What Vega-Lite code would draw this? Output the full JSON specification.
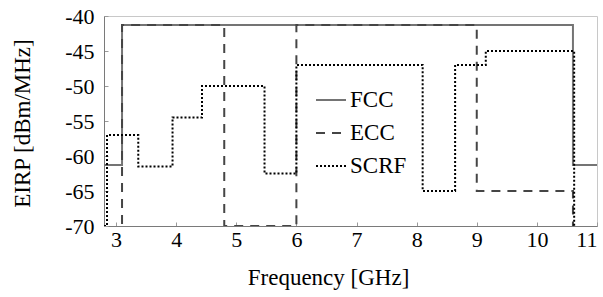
{
  "$schema": "https://vega.github.io/schema/vega-lite/v6.json",
  "width": 493,
  "height": 210,
  "autosize": {"type": "none"},
  "padding": {"left": 104, "top": 16, "right": 6, "bottom": 71},
  "background": "white",
  "config": {
    "view": {"stroke": "#c8c8c8", "strokeWidth": 1},
    "font": "Liberation Serif, Times New Roman, serif",
    "style": {
      "guide-label": {"font": "Liberation Serif, Times New Roman, serif"},
      "guide-title": {"font": "Liberation Serif, Times New Roman, serif"}
    }
  },
  "data": {
    "values": [
      {"f": 2.8, "p": -61.3, "s": "FCC"},
      {"f": 3.1, "p": -41.3, "s": "FCC"},
      {"f": 10.6, "p": -61.3, "s": "FCC"},
      {"f": 11.0, "p": -61.3, "s": "FCC"},
      {"f": 2.8, "p": -90, "s": "ECC"},
      {"f": 3.1, "p": -41.3, "s": "ECC"},
      {"f": 4.8, "p": -70, "s": "ECC"},
      {"f": 6.0, "p": -41.3, "s": "ECC"},
      {"f": 9.0, "p": -65, "s": "ECC"},
      {"f": 10.6, "p": -90, "s": "ECC"},
      {"f": 11.0, "p": -90, "s": "ECC"},
      {"f": 2.8, "p": -70, "s": "SCRF"},
      {"f": 2.85, "p": -57, "s": "SCRF"},
      {"f": 3.37, "p": -61.5, "s": "SCRF"},
      {"f": 3.94, "p": -54.5, "s": "SCRF"},
      {"f": 4.43, "p": -50, "s": "SCRF"},
      {"f": 5.47, "p": -62.5, "s": "SCRF"},
      {"f": 6.0, "p": -47, "s": "SCRF"},
      {"f": 8.1, "p": -65, "s": "SCRF"},
      {"f": 8.64, "p": -47, "s": "SCRF"},
      {"f": 9.15, "p": -45, "s": "SCRF"},
      {"f": 10.62, "p": -90, "s": "SCRF"},
      {"f": 11.0, "p": -90, "s": "SCRF"}
    ]
  },
  "mark": {"type": "line", "interpolate": "step-after", "strokeWidth": 2, "clip": true},
  "encoding": {
    "x": {
      "field": "f", "type": "quantitative",
      "scale": {"domain": [2.8, 11], "nice": false, "zero": false},
      "axis": {
        "values": [3, 4, 5, 6, 7, 8, 9, 10, 11], "grid": false,
        "domainColor": "#7a7a7a", "tickColor": "#9a9a9a", "tickSize": -4,
        "labelFont": "Liberation Serif, Times New Roman, serif", "labelFontSize": 22, "labelColor": "#000000", "labelPadding": 7,
        "title": "Frequency [GHz]", "titleFont": "Liberation Serif, Times New Roman, serif", "titleFontSize": 23, "titleFontWeight": "normal", "titleColor": "#000000",
        "titleX": 224, "titleY": 51, "titleBaseline": "middle"
      }
    },
    "y": {
      "field": "p", "type": "quantitative",
      "scale": {"domain": [-70, -40], "nice": false, "zero": false},
      "axis": {
        "values": [-70, -65, -60, -55, -50, -45, -40], "grid": false, "labelExpr": "'' + datum.value",
        "domainColor": "#7a7a7a", "tickColor": "#9a9a9a", "tickSize": -4,
        "labelFont": "Liberation Serif, Times New Roman, serif", "labelFontSize": 22, "labelColor": "#000000", "labelPadding": 14,
        "title": "EIRP [dBm/MHz]", "titleFont": "Liberation Serif, Times New Roman, serif", "titleFontSize": 23, "titleFontWeight": "normal", "titleColor": "#000000",
        "titleX": -82, "titleY": 107, "titleBaseline": "middle"
      }
    },
    "color": {
      "field": "s", "type": "nominal",
      "scale": {"domain": ["FCC", "ECC", "SCRF"], "range": ["#747474", "#454545", "#000000"]},
      "legend": {
        "title": null, "orient": "none", "legendX": 211, "legendY": 68,
        "symbolType": "stroke", "symbolSize": 900, "symbolStrokeWidth": 2,
        "labelFont": "Liberation Serif, Times New Roman, serif", "labelFontSize": 23, "labelColor": "#000000",
        "labelOffset": 3, "rowPadding": 5
      }
    },
    "strokeDash": {
      "field": "s", "type": "nominal",
      "scale": {"domain": ["FCC", "ECC", "SCRF"], "range": [[1, 0], [9, 7], [2, 2]]},
      "legend": {
        "title": null, "orient": "none", "legendX": 211, "legendY": 68,
        "symbolType": "stroke", "symbolSize": 900, "symbolStrokeWidth": 2,
        "labelFont": "Liberation Serif, Times New Roman, serif", "labelFontSize": 23, "labelColor": "#000000",
        "labelOffset": 3, "rowPadding": 5
      }
    }
  }
}
